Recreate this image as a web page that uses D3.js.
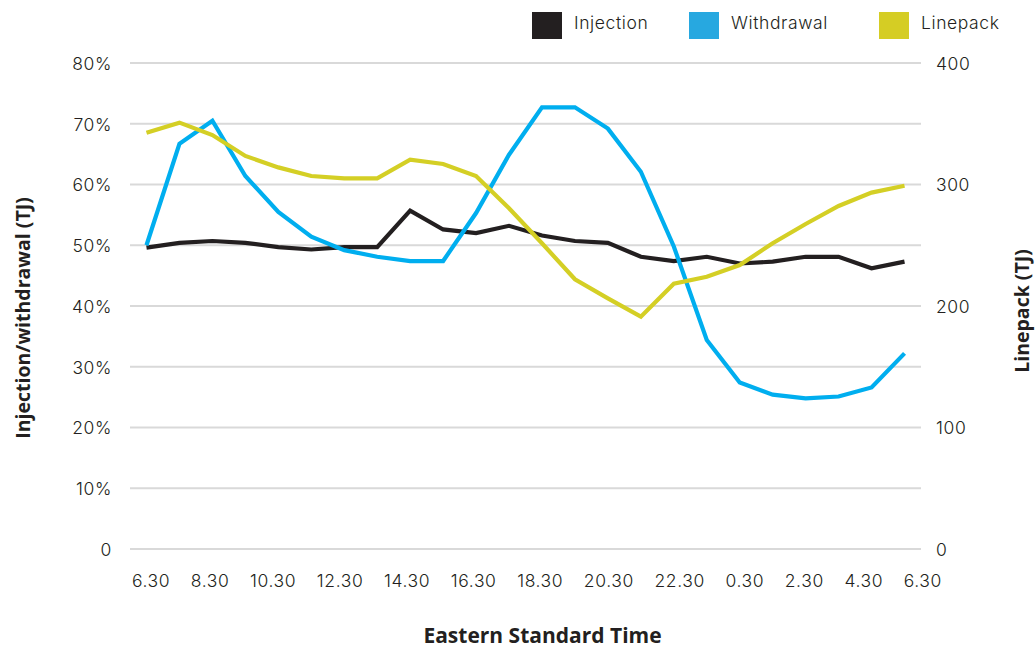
<!DOCTYPE html>
<html><head><meta charset="utf-8">
<script src="https://cdn.jsdelivr.net/npm/d3@7"></script>
<style>
html,body{margin:0;padding:0;background:#fff;}
svg{display:block;}
.tick-text{font-family:Inter, "DejaVu Sans", sans-serif;font-size:17.5px;font-weight:300;letter-spacing:0.6px;fill:#231f20;}
.title{font-family:"Open Sans", sans-serif;font-weight:700;font-size:19.5px;fill:#231f20;}
</style></head>
<body><svg id="c" width="1035" height="648"></svg>
<script>
const hours = ["6.30","7.30","8.30","9.30","10.30","11.30","12.30","13.30","14.30","15.30","16.30","17.30",
  "18.30","19.30","20.30","21.30","22.30","23.30","0.30","1.30","2.30","3.30","4.30","5.30"];
const injection = [49.6,50.4,50.7,50.4,49.7,49.3,49.7,49.7,55.7,52.6,52.0,53.2,51.6,50.7,50.4,48.1,47.4,48.1,47.0,47.3,48.1,48.1,46.2,47.3];
const withdrawal = [50.0,66.7,70.5,61.4,55.5,51.4,49.2,48.1,47.4,47.4,55.3,64.9,72.7,72.7,69.2,62.1,49.8,34.4,27.4,25.4,24.8,25.1,26.6,32.2];
const linepack = [342.6,350.9,340.7,323.5,314.1,307,305.1,305.1,320.4,316.9,307,280.4,251.6,222,206.3,191.2,218.4,224.1,233.7,251.6,267.5,282.3,293.3,299];
const xTickLabels = ["6.30","8.30","10.30","12.30","14.30","16.30","18.30","20.30","22.30","0.30","2.30","4.30","6.30"];
const leftTicks = [0,10,20,30,40,50,60,70,80];
const rightTicks = [0,100,200,300,400];
const seriesNames = ["Injection","Withdrawal","Linepack"];
const lineColors = ["#231f20","#00aeef","#d4cf25"];
const legendColors = ["#231f20","#27a8e0","#d5cd24"];

const svg = d3.select("#c");
const plotL = 130, plotR = 921, plotT = 63, plotB = 549;

const x = d3.scalePoint().domain(hours).range([plotL, plotR]).padding(0.5);
const yL = d3.scaleLinear().domain([0, 80]).range([plotB, plotT]);
const yR = d3.scaleLinear().domain([0, 400]).range([plotB, plotT]);

// gridlines
svg.append("g").selectAll("line").data(leftTicks).join("line")
  .attr("x1", plotL).attr("x2", plotR)
  .attr("y1", d => yL(d)).attr("y2", d => yL(d))
  .attr("stroke", "#d9d9d9").attr("stroke-width", 2);

// left axis
const gL = svg.append("g").attr("transform", `translate(${112},0)`)
  .call(d3.axisLeft(yL).tickValues(leftTicks).tickSize(0).tickPadding(0)
    .tickFormat(d => d === 0 ? "0" : d + "%"));
gL.select(".domain").remove();
gL.selectAll("text").attr("class","tick-text").attr("font-family",null).attr("font-size",null).attr("dy","0.36em");

// right axis
const gR = svg.append("g").attr("transform", `translate(${936},0)`)
  .call(d3.axisRight(yR).tickValues(rightTicks).tickSize(0).tickPadding(0));
gR.select(".domain").remove();
gR.selectAll("text").attr("class","tick-text").attr("font-family",null).attr("font-size",null).attr("dy","0.36em");

// x tick labels, justified across the axis span
const xStart = 132, xEnd = 942;
const xt = svg.append("g").selectAll("text").data(xTickLabels).join("text")
  .attr("class","tick-text").attr("y", 587).text(d => d);
const widths = []; xt.each(function(){ widths.push(this.getComputedTextLength()); });
const gap = (xEnd - xStart - d3.sum(widths)) / (xTickLabels.length - 1);
let cx = xStart;
xt.each(function(d,i){ d3.select(this).attr("x", cx); cx += widths[i] + gap; });

// lines
const lineL = d3.line().x((d,i) => x(hours[i])).y(d => yL(d));
const lineR = d3.line().x((d,i) => x(hours[i])).y(d => yR(d));
[[injection, lineL, 0],[withdrawal, lineL, 1],[linepack, lineR, 2]].forEach(([data, gen, k]) => {
  svg.append("path").datum(data).attr("d", gen).attr("fill","none")
    .attr("stroke", lineColors[k]).attr("stroke-width", 4.2).attr("stroke-linejoin","miter");
});

// legend
const legX = [532, 689, 879];
const leg = svg.append("g").selectAll("g").data(seriesNames).join("g")
  .attr("transform", (d,i) => `translate(${legX[i]},12)`);
leg.append("rect").attr("width", 30).attr("height", 27).attr("fill", (d,i) => legendColors[i]);
leg.append("text").attr("class","tick-text").attr("x", 42).attr("y", 11).attr("dy","0.36em").text(d => d);

// axis titles
svg.append("text").attr("class","title").attr("text-anchor","middle")
  .attr("transform", `translate(30,${(plotT+plotB)/2 + 12}) rotate(-90)`).text("Injection/withdrawal (TJ)");
svg.append("text").attr("class","title").attr("text-anchor","middle")
  .attr("transform", `translate(1029,${(plotT+plotB)/2 + 5}) rotate(-90)`).text("Linepack (TJ)");
svg.append("text").attr("class","title").attr("text-anchor","middle")
  .style("font-size","21px")
  .attr("x", 542.5).attr("y", 643).text("Eastern Standard Time");
</script></body></html>
